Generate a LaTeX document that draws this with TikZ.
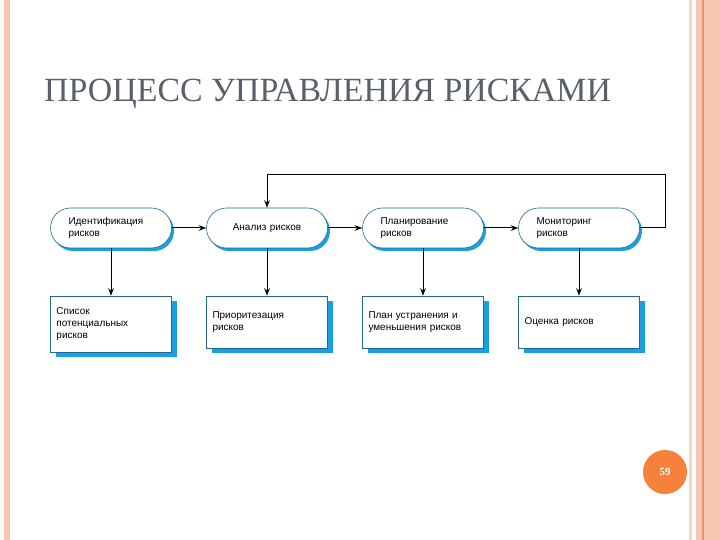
\documentclass[tikz,border=0pt]{standalone}
\usepackage{fontspec}
\setmainfont{Liberation Serif}
\newfontfamily\boxfont{Liberation Sans}
\usetikzlibrary{arrows.meta,shadows}
\tikzset {>=Stealth}
\definecolor{ramka}{RGB}{38,104,140}
\definecolor{ten}{RGB}{25,160,225}
\definecolor{zagol}{RGB}{88,96,106}
\definecolor{krug}{RGB}{247,128,58}
\definecolor{polosa}{RGB}{246,198,178}
\definecolor{svetlo}{RGB}{243,212,198}
\definecolor{liniya}{RGB}{226,150,108}

\begin{document}
\begin{tikzpicture}[x=1bp,y=-1bp,
  etap/.style={draw=ramka,semithick,fill=white,rounded corners=20bp,minimum width=121bp,minimum height=40bp,text width=85bp,align=left,inner sep=0pt,font=\boxfont\fontsize{10}{12.5}\selectfont,drop shadow={shadow xshift=2.5bp,shadow yshift=-3bp,fill=ten,opacity=1}},
  itog/.style={draw=ramka,semithick,fill=white,minimum width=121bp,minimum height=52bp,text width=109bp,align=left,inner sep=0pt,font=\boxfont\fontsize{10}{12}\selectfont,drop shadow={shadow xshift=5bp,shadow yshift=-5bp,fill=ten,opacity=1}},
  svyaz/.style={line width=1bp,->}]
\useasboundingbox (0,0) rectangle (720,540);
% slide frame
\fill[polosa] (4,0) rectangle (10,540);
\fill[svetlo] (689,0) rectangle (692,540);
\fill[polosa] (696,0) rectangle (720,540);
\fill[liniya] (702,0) rectangle (703.5,540);
\node[anchor=base west,inner sep=0pt,text=zagol,font=\fontsize{34}{34}\selectfont] (zagolovok) at (44,102) {ПРОЦЕСС УПРАВЛЕНИЯ РИСКАМИ};
% stages
\node[etap] (ident) at (111,228) {Идентификация\\рисков};
\node[etap,align=center] (analiz) at (267,228) {Анализ рисков};
\node[etap] (plan) at (423,228) {Планирование\\рисков};
\node[etap] (monit) at (579,228) {Мониторинг\\рисков};
% results
\node[itog,minimum height=56bp] (spisok) at (111,324) {Список\\потенциальных\\рисков};
\node[itog] (prior) at (267,322) {Приоритезация\\рисков};
\node[itog] (ustr) at (423,322) {План устранения и\\уменьшения рисков\\[4bp]};
\node[itog] (ocenka) at (579,322) {Оценка рисков\\[8bp]};
\draw[svyaz] (ident) -- (analiz);
\draw[svyaz] (analiz) -- (plan);
\draw[svyaz] (plan) -- (monit);
\coordinate (povorot) at (665,175);
\draw[svyaz] (monit.east) -| (povorot) -| (analiz.north);
\draw[svyaz] (ident) -- (spisok);
\draw[svyaz] (analiz) -- (prior);
\draw[svyaz] (plan) -- (ustr);
\draw[svyaz] (monit) -- (ocenka);
\node[circle,fill=krug,minimum size=44bp,inner sep=0pt,text=white,font=\bfseries\fontsize{11}{11}\selectfont] (nomer) at (665,472) {59};
\end{tikzpicture}
\end{document}
